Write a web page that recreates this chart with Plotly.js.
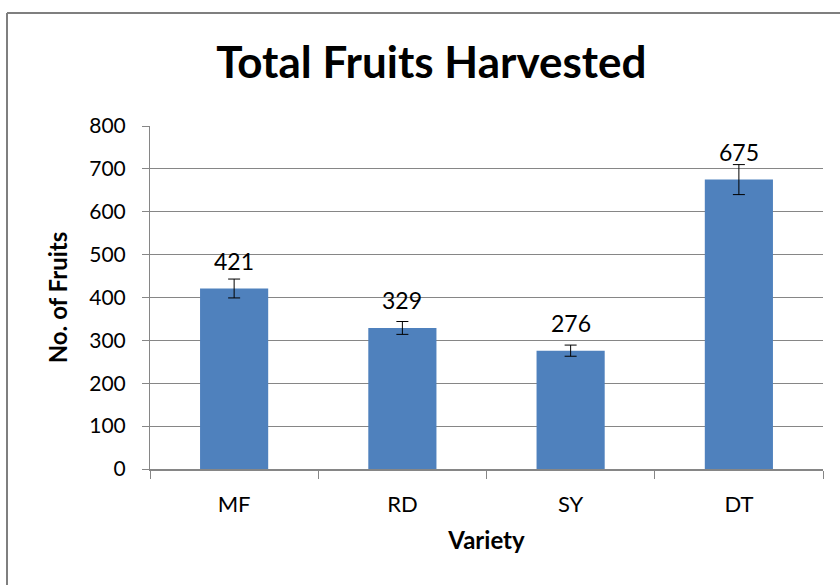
<!DOCTYPE html>
<html>
<head>
<meta charset="utf-8">
<script src="https://cdn.plot.ly/plotly-3.0.1.min.js"></script>
<style>
html,body{margin:0;padding:0;background:#fff;}
#chart{width:840px;height:585px;}
</style>
</head>
<body>
<div id="chart"></div>
<script>
const varieties = ["MF", "RD", "SY", "DT"];
const fruits = [421, 329, 276, 675];
const fruitErrors = [22, 15, 13, 35];
const yTicks = [0, 100, 200, 300, 400, 500, 600, 700, 800];

const font = "Lato, 'Open Sans', sans-serif";

const trace = {
  type: "bar",
  x: varieties,
  y: fruits,
  marker: {color: "#4F81BD"},
  width: 0.405,
  error_y: {type: "data", array: fruitErrors, visible: true, color: "#000", thickness: 1, width: 6},
  hoverinfo: "none"
};

const annotations = varieties.map((v, i) => ({
  x: v, y: fruits[i], xref: "x", yref: "y",
  text: String(fruits[i]), showarrow: false,
  yanchor: "bottom", yshift: 12,
  font: {family: font, size: 23, color: "#000"}
}));

const gray = "#868686";
const layout = {
  width: 840, height: 585,
  margin: {l: 150, r: 17, t: 126, b: 116},
  paper_bgcolor: "#fff", plot_bgcolor: "#fff",
  showlegend: false,
  title: {
    text: "<b>Total Fruits Harvested</b>",
    font: {family: font, size: 44, color: "#000"},
    x: 0.418, xanchor: "center", y: 0.893, yanchor: "middle", xref: "paper", yref: "container"
  },
  xaxis: {
    type: "category",
    tickson: "boundaries",
    ticks: "outside", ticklen: 8, tickcolor: gray, tickwidth: 1,
    showline: true, linecolor: gray, linewidth: 2,
    showgrid: false, zeroline: false,
    ticklabelstandoff: 15,
    tickfont: {family: font, size: 22, color: "#000"},
    title: {text: "<b>Variety</b>", font: {family: font, size: 24, color: "#000"}, standoff: 16},
    automargin: false
  },
  yaxis: {
    range: [0, 800],
    tickvals: yTicks,
    ticktext: yTicks.map(String),
    ticks: "outside", ticklen: 7, tickcolor: gray, tickwidth: 1,
    showline: true, linecolor: gray, linewidth: 1,
    showgrid: true, gridcolor: gray, gridwidth: 1,
    zeroline: false,
    ticklabelstandoff: 12,
    tickfont: {family: font, size: 21, color: "#000"},
    title: {text: "<b>No. of Fruits</b>", font: {family: font, size: 24, color: "#000"}, standoff: 14},
    automargin: false
  },
  annotations: annotations,
  shapes: [
    {type: "line", xref: "paper", yref: "paper", x0: (7 - 150) / 673, x1: (845 - 150) / 673, y0: (469 - 13) / 343, y1: (469 - 13) / 343, line: {color: "#7f7f7f", width: 2}},
    {type: "line", xref: "paper", yref: "paper", x0: (7 - 150) / 673, x1: (7 - 150) / 673, y0: (469 - 13) / 343, y1: (469 - 600) / 343, line: {color: "#7f7f7f", width: 2}}
  ]
};

Plotly.newPlot("chart", [trace], layout, {displayModeBar: false, staticPlot: true});
</script>
</body>
</html>
